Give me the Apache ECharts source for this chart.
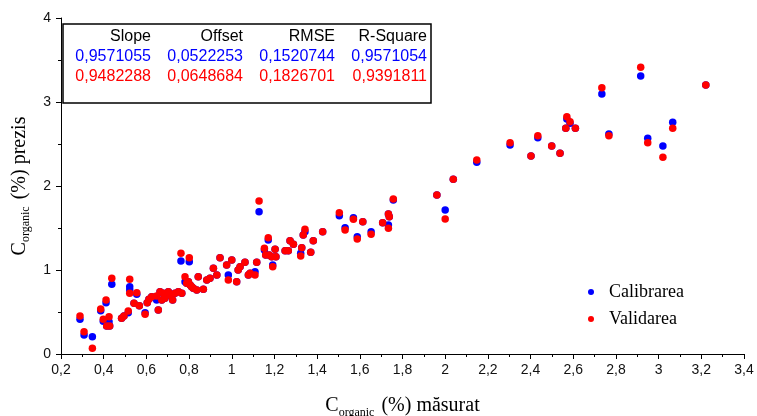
<!DOCTYPE html>
<html><head><meta charset="utf-8">
<script src="https://cdn.jsdelivr.net/npm/echarts@6/dist/echarts.min.js"></script>
<style>html,body{margin:0;padding:0;background:#fff}#c{width:757px;height:416px}</style>
</head><body><div id="c"></div>
<script>
// measured C organic (%)
const measured = [0.289,0.308,0.347,0.386,0.398,0.411,0.414,0.425,0.428,0.438,0.484,0.495,0.515,0.522,0.522,0.555,0.542,0.567,0.594,0.604,0.612,0.625,0.648,0.656,0.664,0.672,0.679,0.687,0.703,0.711,0.723,0.734,0.750,0.766,0.762,0.801,0.781,0.789,0.797,0.805,0.812,0.820,0.836,0.843,0.867,0.883,0.898,0.914,0.930,0.945,0.976,0.984,1.000,1.023,1.030,1.039,1.062,1.078,1.086,1.109,1.117,1.128,1.153,1.159,1.171,1.175,1.187,1.192,1.203,1.207,1.250,1.265,1.273,1.289,1.323,1.328,1.335,1.343,1.370,1.382,1.426,1.504,1.531,1.570,1.588,1.614,1.653,1.707,1.734,1.738,1.734,1.757,1.961,2.000,2.038,2.148,2.304,2.402,2.434,2.499,2.538,2.570,2.585,2.565,2.610,2.734,2.767,2.916,2.949,3.020,3.066,3.221];
// predicted - validation (red)
const predVal = [0.452,0.265,0.068,0.536,0.413,0.643,0.333,0.444,0.333,0.901,0.425,0.452,0.512,0.889,0.723,0.730,0.604,0.575,0.473,0.611,0.651,0.682,0.690,0.524,0.742,0.643,0.723,0.663,0.742,0.702,0.643,0.723,0.742,0.723,1.199,1.146,0.920,0.842,0.861,0.821,0.801,0.782,0.762,0.920,0.770,0.881,0.901,1.020,0.940,1.146,1.060,0.881,1.119,0.861,1.000,1.039,1.092,0.940,0.961,0.940,1.092,1.821,1.258,1.179,1.385,1.179,1.159,1.039,1.246,1.159,1.230,1.230,1.349,1.306,1.167,1.265,1.417,1.485,1.211,1.349,1.456,1.682,1.476,1.604,1.369,1.575,1.425,1.563,1.667,1.635,1.496,1.845,1.893,1.607,2.080,2.310,2.515,2.357,2.599,2.476,2.389,2.825,2.765,2.687,2.687,3.170,2.599,3.413,2.515,2.342,2.687,3.202];
// predicted - calibration (blue)
const predCal = [0.413,0.226,0.206,0.515,0.389,0.611,0.333,0.385,0.333,0.830,0.425,0.452,0.492,0.801,0.762,0.711,0.604,0.575,0.492,0.611,0.651,0.682,0.643,0.524,0.742,0.643,0.723,0.663,0.742,0.702,0.643,0.723,0.742,0.723,1.107,1.099,0.861,0.842,0.861,0.821,0.801,0.782,0.762,0.920,0.770,0.881,0.901,1.020,0.940,1.146,1.060,0.940,1.119,0.861,1.000,1.039,1.092,0.940,0.961,0.980,1.092,1.694,1.238,1.179,1.357,1.179,1.159,1.060,1.246,1.159,1.230,1.230,1.349,1.306,1.199,1.265,1.417,1.456,1.211,1.349,1.456,1.646,1.504,1.623,1.396,1.575,1.456,1.563,1.667,1.635,1.536,1.833,1.893,1.714,2.080,2.282,2.488,2.357,2.575,2.476,2.389,2.798,2.746,2.687,2.687,3.095,2.619,3.310,2.568,2.476,2.758,3.202];

const seriesNames = ['Calibrarea','Validarea'];
const statHeaders = ['Slope','Offset','RMSE','R-Square'];
const statCal = ['0,9571055','0,0522253','0,1520744','0,9571054'];
const statVal = ['0,9482288','0,0648684','0,1826701','0,9391811'];

const xMin = 0.2, xMax = 3.4, xStep = 0.2;
const yMin = 0, yMax = 4, yStep = 1;

const calData = measured.map((x,i)=>[x,predCal[i]]);
const valData = measured.map((x,i)=>[x,predVal[i]]);

const fmt = v => String(+(+v).toFixed(1)).replace('.', ',');

const serif = "'Liberation Serif','Times New Roman',serif";
const sans = "'Liberation Sans',Arial,sans-serif";

const titleRich = {
  c:{fontFamily:serif,fontSize:20,color:'#000',lineHeight:26},
  s:{fontFamily:serif,fontSize:12,color:'#000',lineHeight:26,verticalAlign:'bottom'},
  n:{fontFamily:serif,fontSize:20,color:'#000',lineHeight:26,padding:[0,0,0,2]}
};

const colX = [151,243,335,427];
const rowY = [37,57,77];
const graphics = [{
  type:'rect', shape:{x:63,y:24,width:368,height:79},
  style:{fill:'#fff',stroke:'#000',lineWidth:1.5}, z:10
}];
const rows = [[statHeaders,'#000'],[statCal,'#0000ff'],[statVal,'#ff0000']];
rows.forEach((r,ri)=>{
  r[0].forEach((t,ci)=>{
    graphics.push({type:'text', x:colX[ci], y:rowY[ri], z:11,
      style:{text:t, fill:r[1], font:'16px '+sans, textAlign:'right', textVerticalAlign:'middle'}});
  });
});

const chart = echarts.init(document.getElementById('c'), null, {renderer:'canvas'});
chart.setOption({
  animation:false,
  backgroundColor:'#fff',
  grid:{left:61,right:13,top:18,bottom:62,containLabel:false,outerBoundsMode:'none'},
  legend:{
    data:seriesNames, orient:'vertical', left:583, top:278,
    icon:'circle', itemWidth:6, itemHeight:6, itemGap:9,
    textStyle:{fontFamily:serif,fontSize:18,color:'#000',lineHeight:18,padding:[0,0,0,10]}
  },
  xAxis:{
    type:'value', min:xMin, max:xMax, interval:xStep,
    name:'{c|C}{s|organic}{n| (%) măsurat}', nameLocation:'middle', nameGap:39,
    nameTextStyle:{rich:titleRich},
    axisLine:{show:true,lineStyle:{color:'#000',width:1}},
    axisTick:{show:true,inside:false,length:5,lineStyle:{color:'#000'}},
    minorTick:{show:true,splitNumber:2,length:3,lineStyle:{color:'#000'}},
    splitLine:{show:false},
    axisLabel:{formatter:fmt,fontFamily:sans,fontSize:14,color:'#111',margin:9}
  },
  yAxis:{
    type:'value', min:yMin, max:yMax, interval:yStep,
    name:'{c|C}{s|organic}{n| (%) prezis}', nameLocation:'middle', nameGap:26,
    nameTextStyle:{rich:titleRich},
    axisLine:{show:true,lineStyle:{color:'#000',width:1}},
    axisTick:{show:true,inside:false,length:5,lineStyle:{color:'#000'}},
    minorTick:{show:true,splitNumber:2,length:3,lineStyle:{color:'#000'}},
    splitLine:{show:false},
    axisLabel:{formatter:fmt,fontFamily:sans,fontSize:14,color:'#111',margin:10}
  },
  series:[
    {name:seriesNames[0], type:'scatter', data:calData, symbol:'circle', symbolSize:7.5,
     itemStyle:{color:'#0000ff',opacity:1}, emphasis:{disabled:true}},
    {name:seriesNames[1], type:'scatter', data:valData, symbol:'circle', symbolSize:7.5,
     itemStyle:{color:'#ff0000',opacity:1}, emphasis:{disabled:true}}
  ],
  graphic:graphics
});
</script></body></html>
